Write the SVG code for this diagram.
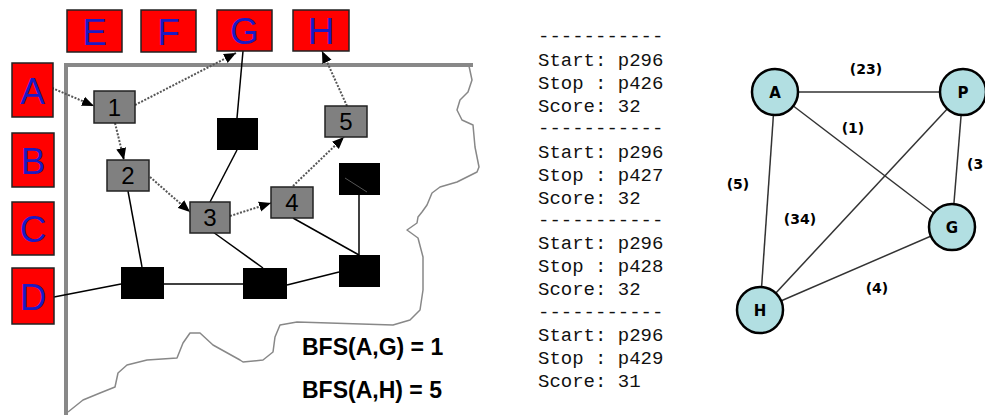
<svg xmlns="http://www.w3.org/2000/svg" width="985" height="416" viewBox="0 0 985 416">
<defs>
<marker id="ah" markerUnits="userSpaceOnUse" markerWidth="13" markerHeight="11" refX="12" refY="5" orient="auto" viewBox="0 0 13 10">
<path d="M0,0 L12,5 L0,10 z" fill="#000"/>
</marker>
<style>
.lbl{fill:#ff0000;stroke:#222;stroke-width:1.5}
.lt{font-family:"Liberation Sans",Arial,sans-serif;font-size:37px;fill:#1a1ac4;text-anchor:middle}
.gn{fill:#808080;stroke:#222;stroke-width:1.5}
.gt{font-family:"Liberation Sans",Arial,sans-serif;font-size:24px;fill:#000;text-anchor:middle}
.bk{fill:#000}
.sl{stroke:#000;stroke-width:1.5;fill:none}
.dl{stroke:#555;stroke-width:2;stroke-dasharray:2 1.5;fill:none;marker-end:url(#ah)}
.mono{font-family:"Liberation Mono","Courier New",monospace;font-size:19px;fill:#111}
.bfs{font-family:"Liberation Sans",Arial,sans-serif;font-size:23px;font-weight:bold;fill:#000}
.cn{fill:#b2dfe2;stroke:#000;stroke-width:2.5}
.ct{font-family:"DejaVu Sans",Verdana,sans-serif;font-size:15px;font-weight:bold;fill:#000;text-anchor:middle}
.el{stroke:#333;stroke-width:1.5}
.et{font-family:"DejaVu Sans",Verdana,sans-serif;font-size:14px;font-weight:bold;fill:#000;text-anchor:middle}
</style>
</defs>
<rect width="985" height="416" fill="#fff"/>

<g id="frame">
<path d="M64,65 L473,65 M66,63 L66,415" stroke="#888" stroke-width="4" fill="none"/>
<path d="M469,66 L472,80 L468,92 L460,100 L457,110 L462,120 L473,125 L475,147 L479,167 L477,172 L457,182 L440,187 L432,193 L427,205 L422,212 L418,217 L417,223 L407,230 L418,238 L423,257 L423,290 L420,310 L410,320 L393,325 L297,322 L280,325 L275,337 L273,352 L263,360 L243,362 L240,360 L213,345 L200,333 L190,333 L183,343 L177,358 L147,360 L127,365 L118,373 L115,387 L100,393 L83,400 L68,412" stroke="#888" stroke-width="1.5" fill="none" stroke-linejoin="round"/>
</g>

<g id="connectors">
<line class="sl" x1="243" y1="51" x2="237" y2="118"/>
<line class="sl" x1="237" y1="150" x2="210" y2="202"/>
<line class="sl" x1="128" y1="191" x2="142" y2="267"/>
<line class="sl" x1="213" y1="232" x2="263" y2="268"/>
<line class="sl" x1="54" y1="297" x2="121" y2="284"/>
<line class="sl" x1="164" y1="284" x2="243" y2="284"/>
<line class="sl" x1="287" y1="285" x2="339" y2="272"/>
<line class="sl" x1="293" y1="218" x2="359" y2="255"/>
<line class="sl" x1="359" y1="195" x2="359" y2="255"/>
<line class="dl" x1="52" y1="88" x2="94" y2="106"/>
<line class="dl" x1="135" y1="105" x2="236" y2="53"/>
<line class="dl" x1="115" y1="123" x2="124" y2="160"/>
<line class="dl" x1="150" y1="177" x2="190" y2="212"/>
<line class="dl" x1="230" y1="216" x2="271" y2="203"/>
<line class="dl" x1="293" y1="186" x2="344" y2="137"/>
<line class="dl" x1="347" y1="106" x2="322" y2="51"/>
</g>

<g id="A"><rect class="lbl" x="12" y="63" width="41" height="54"/><text class="lt" x="32.5" y="104">A</text></g>
<g id="B"><rect class="lbl" x="12" y="133" width="42" height="54"/><text class="lt" x="33" y="174">B</text></g>
<g id="C"><rect class="lbl" x="12" y="202" width="42" height="53"/><text class="lt" x="33" y="242">C</text></g>
<g id="D"><rect class="lbl" x="12" y="268" width="42" height="56"/><text class="lt" x="33" y="310">D</text></g>
<g id="E"><rect class="lbl" x="67" y="10" width="55" height="42"/><text class="lt" x="94.5" y="45">E</text></g>
<g id="F"><rect class="lbl" x="141" y="10" width="55" height="42"/><text class="lt" x="168.5" y="45">F</text></g>
<g id="G"><rect class="lbl" x="217" y="10" width="55" height="41"/><text class="lt" x="244.5" y="44">G</text></g>
<g id="H"><rect class="lbl" x="293" y="10" width="56" height="41"/><text class="lt" x="321" y="44">H</text></g>

<g id="n1"><rect class="gn" x="94" y="91" width="41" height="32"/><text class="gt" x="114.5" y="116">1</text></g>
<g id="n2"><rect class="gn" x="107" y="160" width="42" height="31"/><text class="gt" x="128" y="184">2</text></g>
<g id="n3"><rect class="gn" x="190" y="202" width="40" height="31"/><text class="gt" x="210" y="226">3</text></g>
<g id="n4"><rect class="gn" x="271" y="187" width="42" height="31"/><text class="gt" x="292" y="211">4</text></g>
<g id="n5"><rect class="gn" x="325" y="106" width="42" height="31"/><text class="gt" x="346" y="130">5</text></g>

<g id="b1"><rect class="bk" x="217" y="118" width="41" height="32"/></g>
<g id="b2"><rect class="bk" x="339" y="163" width="41" height="32"/><line x1="345" y1="178" x2="367" y2="192" stroke="#555" stroke-width="1"/></g>
<g id="b3"><rect class="bk" x="339" y="255" width="41" height="32"/></g>
<g id="b4"><rect class="bk" x="243" y="268" width="44" height="31"/></g>
<g id="b5"><rect class="bk" x="121" y="267" width="43" height="32"/></g>

<g id="bfs">
<text class="bfs" x="302" y="355">BFS(A,G) = 1</text>
<text class="bfs" x="302" y="398">BFS(A,H) = 5</text>
</g>

<g id="listing" class="mono">
<text x="538" y="42">-----------</text>
<text x="538" y="66">Start: p296</text>
<text x="538" y="89">Stop : p426</text>
<text x="538" y="112">Score: 32</text>
<text x="538" y="134">-----------</text>
<text x="538" y="158">Start: p296</text>
<text x="538" y="181">Stop : p427</text>
<text x="538" y="204">Score: 32</text>
<text x="538" y="226">-----------</text>
<text x="538" y="249">Start: p296</text>
<text x="538" y="272">Stop : p428</text>
<text x="538" y="295">Score: 32</text>
<text x="538" y="318">-----------</text>
<text x="538" y="341">Start: p296</text>
<text x="538" y="364">Stop : p429</text>
<text x="538" y="387">Score: 31</text>
</g>

<g id="graph-edges">
<line class="el" x1="775" y1="92" x2="963" y2="92"/>
<line class="el" x1="775" y1="92" x2="952" y2="227"/>
<line class="el" x1="775" y1="92" x2="760" y2="310"/>
<line class="el" x1="963" y1="92" x2="760" y2="310"/>
<line class="el" x1="963" y1="92" x2="952" y2="227"/>
<line class="el" x1="952" y1="227" x2="760" y2="310"/>
<text class="et" x="866" y="74">(23)</text>
<text class="et" x="853" y="133">(1)</text>
<text class="et" x="738" y="189">(5)</text>
<text class="et" x="800" y="224">(34)</text>
<text class="et" x="877" y="293">(4)</text>
<text class="et" x="967" y="169" style="text-anchor:start">(3</text>
</g>
<g id="gA"><circle class="cn" cx="775" cy="92" r="23"/><text class="ct" x="775" y="97.5">A</text></g>
<g id="gP"><circle class="cn" cx="963" cy="92" r="23"/><text class="ct" x="963" y="97.5">P</text></g>
<g id="gG"><circle class="cn" cx="952" cy="227" r="23"/><text class="ct" x="952" y="232.5">G</text></g>
<g id="gH"><circle class="cn" cx="760" cy="310" r="23"/><text class="ct" x="760" y="315.5">H</text></g>
</svg>
